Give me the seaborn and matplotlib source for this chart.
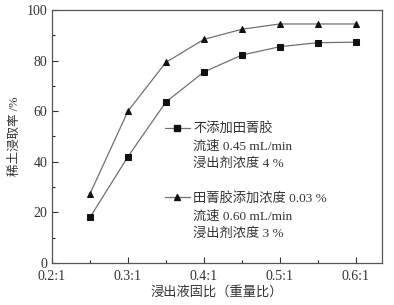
import numpy as np
import pandas as pd
import matplotlib
matplotlib.use("Agg")
import matplotlib.pyplot as plt
from matplotlib.lines import Line2D
from matplotlib.ticker import MultipleLocator
import seaborn as sns

# liquid/solid ratio and leaching rate (%)
ratio = [0.25, 0.30, 0.35, 0.40, 0.45, 0.50, 0.55, 0.60]
no_gum = [18.0, 42.0, 63.6, 75.5, 82.2, 85.5, 87.1, 87.3]
with_gum = [27.3, 60.0, 79.3, 88.4, 92.4, 94.5, 94.5, 94.5]

x_ticks = [0.2, 0.3, 0.4, 0.5, 0.6]
x_labels = ["0.2:1", "0.3:1", "0.4:1", "0.5:1", "0.6:1"]
y_ticks = [0, 20, 40, 60, 80, 100]

label_a = ["不添加田菁胶", "流速 0.45 mL/min", "浸出剂浓度 4 %"]
label_b = ["田菁胶添加浓度 0.03 %", "流速 0.60 mL/min", "浸出剂浓度 3 %"]
x_title = "浸出液固比（重量比）"
y_title = "稀土浸取率 /%"

sns.set_style("ticks")
plt.rcParams['font.family'] = ['Liberation Serif', 'Noto Sans CJK SC']
plt.rcParams['xtick.direction'] = 'in'
plt.rcParams['ytick.direction'] = 'in'

df = pd.DataFrame({
    "ratio": ratio * 2,
    "rate": no_gum + with_gum,
    "group": ["a"] * len(ratio) + ["b"] * len(ratio),
})

fig = plt.figure(figsize=(3.94, 3.05), dpi=100)
ax = fig.add_axes([0.132, 0.138, 0.838, 0.829])

sns.lineplot(data=df, x="ratio", y="rate", hue="group", style="group",
             markers={"a": "s", "b": "^"}, dashes=False,
             palette={"a": "#707070", "b": "#707070"},
             markerfacecolor="#111111", markeredgecolor="#111111",
             markersize=5, linewidth=0.9, legend=False, ax=ax)

ax.set_xlim(0.2, 0.635)
ax.set_ylim(0, 100)
ax.set_xticks(x_ticks)
ax.set_xticklabels(x_labels)
ax.set_yticks(y_ticks)
ax.xaxis.set_minor_locator(MultipleLocator(0.05))
ax.yaxis.set_minor_locator(MultipleLocator(10))
ax.tick_params(which='major', length=4, width=0.8, labelsize=10, colors="#333333")
ax.tick_params(axis='x', which='major', pad=5)
ax.tick_params(which='minor', length=2, width=0.8)
for side in ["top", "right"]:
    ax.spines[side].set_visible(True)
for sp in ax.spines.values():
    sp.set_color("#555555")
    sp.set_linewidth(0.9)

ax.set_xlabel(x_title, fontsize=9.5, color="#333333", labelpad=2)
ax.set_ylabel(y_title, fontsize=9, color="#333333", labelpad=4)

blank = Line2D([], [], linestyle="none")
h_a = Line2D([], [], color="#707070", marker="s", markersize=5,
             markerfacecolor="#111111", markeredgecolor="#111111", linewidth=0.9)
h_b = Line2D([], [], color="#707070", marker="^", markersize=5,
             markerfacecolor="#111111", markeredgecolor="#111111", linewidth=0.9)
handles = [h_a, blank, blank, blank, h_b, blank, blank]
labels = label_a + [""] + label_b
ax.legend(handles, labels, loc="upper left", bbox_to_anchor=(0.342, 0.556),
          frameon=False, fontsize=9.5, handlelength=1.9, handletextpad=0.25,
          labelspacing=0.38, borderpad=0, borderaxespad=0,
          labelcolor="#333333")

fig.savefig("out.png", dpi=100)
